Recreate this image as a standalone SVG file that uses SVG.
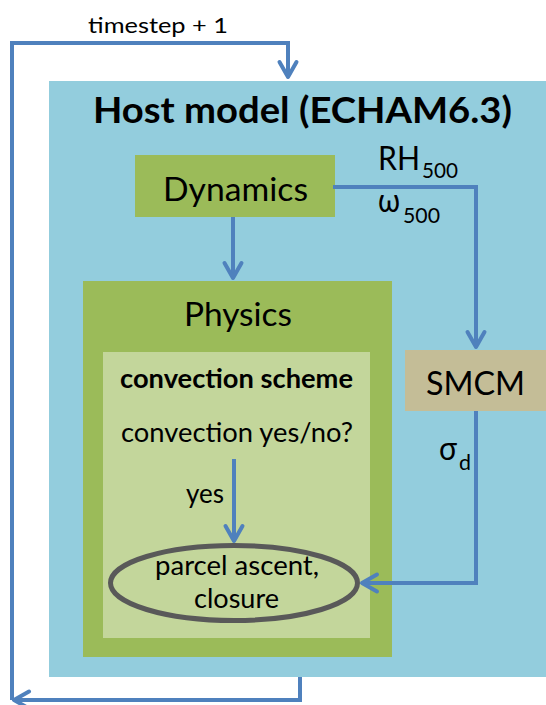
<svg xmlns="http://www.w3.org/2000/svg" width="546" height="705" viewBox="0 0 546 705">
<style>
text{font-family:Lato,"Open Sans","DejaVu Sans",sans-serif;fill:#000}
.b{font-weight:bold}
.conn{fill:none;stroke:#4F81BD;stroke-width:4;stroke-linejoin:miter}
</style>
<defs>
<marker id="ah" markerUnits="userSpaceOnUse" markerWidth="24" markerHeight="24" viewBox="-18 -12 22 24" refX="0" refY="0" orient="auto">
<path d="M-15,-8.5 L0,0 L-15,8.5" fill="none" stroke="#4F81BD" stroke-width="4" stroke-linecap="round" stroke-linejoin="round"/>
</marker>
</defs>
<rect width="546" height="705" fill="#fff"/>
<g id="host">
<rect x="49" y="81" width="497" height="596" fill="#93CDDD"/>
<text class="b" x="93" y="123" font-size="36" textLength="419" lengthAdjust="spacingAndGlyphs">Host model (ECHAM6.3)</text>
</g>
<g id="dynamics">
<rect x="135" y="155" width="200" height="62" fill="#9BBB59"/>
<text x="163" y="201" font-size="33.5" textLength="145" lengthAdjust="spacingAndGlyphs">Dynamics</text>
</g>
<g id="physics">
<rect x="83" y="281" width="309" height="376" fill="#9BBB59"/>
<text x="184" y="326" font-size="33.5" textLength="108" lengthAdjust="spacingAndGlyphs">Physics</text>
</g>
<g id="convection">
<rect x="103" y="352" width="267" height="286" fill="#C3D69B"/>
<text class="b" x="120" y="388" font-size="26" textLength="233" lengthAdjust="spacingAndGlyphs">convection scheme</text>
<text x="121" y="442" font-size="26" textLength="232" lengthAdjust="spacingAndGlyphs">convection yes/no?</text>
</g>
<g id="parcel">
<ellipse cx="234" cy="583" rx="123.5" ry="37.5" fill="none" stroke="#595959" stroke-width="5"/>
<text x="155" y="575" font-size="26" textLength="164" lengthAdjust="spacingAndGlyphs">parcel ascent,</text>
<text x="194" y="608" font-size="26" textLength="85" lengthAdjust="spacingAndGlyphs">closure</text>
</g>
<g id="smcm">
<rect x="405" y="350" width="141" height="61" fill="#C4BD97"/>
<text x="426" y="395" font-size="32" textLength="99" lengthAdjust="spacingAndGlyphs">SMCM</text>
</g>
<g id="connectors">
<polyline class="conn" points="300,677 300,700 14,700" marker-end="url(#ah)"/>
<polyline class="conn" points="12,700 12,43 288,43 288,77" marker-end="url(#ah)"/>
<line class="conn" x1="233" y1="217" x2="233" y2="278" marker-end="url(#ah)"/>
<polyline class="conn" points="333,187 476,187 476,347" marker-end="url(#ah)"/>
<line class="conn" x1="234" y1="459" x2="234" y2="541" marker-end="url(#ah)"/>
<polyline class="conn" points="476,411 476,583 362,583" marker-end="url(#ah)"/>
</g>
<g id="labels">
<text x="88" y="33" font-size="21.6" textLength="140" lengthAdjust="spacingAndGlyphs">timestep + 1</text>
<text x="378" y="170" font-size="32" textLength="42" lengthAdjust="spacingAndGlyphs">RH</text>
<text x="422" y="178" font-size="21" textLength="36" lengthAdjust="spacingAndGlyphs">500</text>
<text x="378" y="212" font-size="32" textLength="22" lengthAdjust="spacingAndGlyphs">ω</text>
<text x="403" y="223" font-size="21" textLength="37" lengthAdjust="spacingAndGlyphs">500</text>
<text x="439" y="460" font-size="32" textLength="18" lengthAdjust="spacingAndGlyphs">σ</text>
<text x="459" y="470" font-size="21" textLength="12" lengthAdjust="spacingAndGlyphs">d</text>
<text x="186" y="503" font-size="26" textLength="38" lengthAdjust="spacingAndGlyphs">yes</text>
</g>
</svg>
